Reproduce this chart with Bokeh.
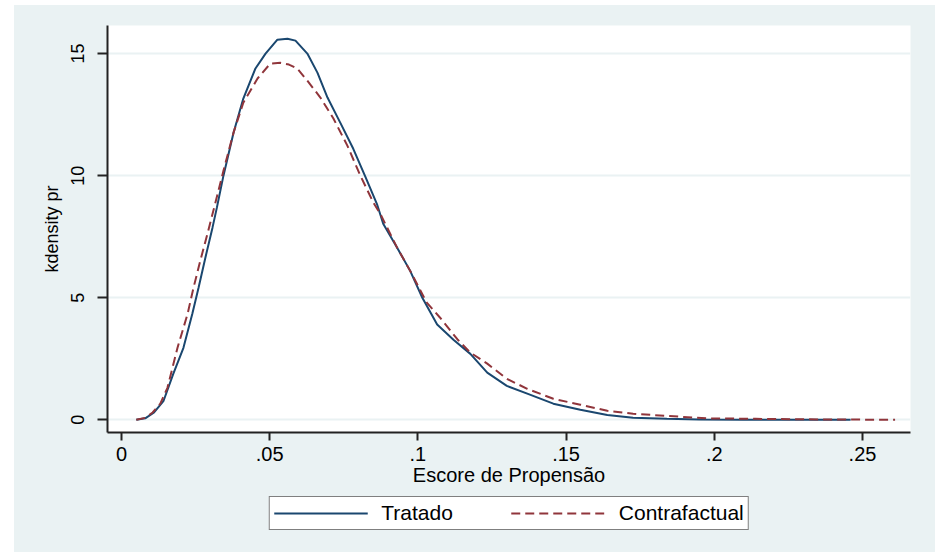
from bokeh.plotting import figure
from bokeh.layouts import column
from bokeh.models import Range1d, FixedTicker, Legend, LegendItem
from bokeh.embed import file_html
from bokeh.resources import INLINE

# ---- data ----
tratado_x = [0.005, 0.008, 0.011, 0.0142, 0.0175, 0.0209, 0.0239, 0.026, 0.0283, 0.0307,
             0.0322, 0.0344, 0.0378, 0.0411, 0.0452, 0.0486, 0.0526, 0.056, 0.0587, 0.0627,
             0.0661, 0.0695, 0.0738, 0.0782, 0.0823, 0.0863, 0.0883, 0.093, 0.0974, 0.1015,
             0.1065, 0.112, 0.1177, 0.1234, 0.130, 0.1369, 0.1457, 0.1548, 0.1639, 0.1726,
             0.184, 0.195, 0.21, 0.23, 0.246]
tratado_y = [0.0, 0.06, 0.3, 0.78, 1.89, 2.95, 4.34, 5.41, 6.64, 7.87,
             8.7, 10.0, 11.76, 13.16, 14.39, 15.0, 15.57, 15.61, 15.53, 15.0,
             14.22, 13.2, 12.17, 11.1, 9.95, 8.8, 8.03, 7.05, 6.1, 5.0,
             3.9, 3.28, 2.7, 1.93, 1.39, 1.07, 0.66, 0.41, 0.2, 0.08,
             0.04, 0.01, 0.005, 0.002, 0.0]

contra_x = [0.005, 0.008, 0.0105, 0.0131, 0.0155, 0.0189, 0.0223, 0.0243, 0.0266, 0.029,
            0.0317, 0.0344, 0.0378, 0.0411, 0.0459, 0.0502, 0.0536, 0.0565, 0.0593, 0.0627,
            0.0671, 0.0715, 0.0762, 0.0806, 0.085, 0.0873, 0.093, 0.0974, 0.103, 0.1075,
            0.1133, 0.1177, 0.1234, 0.130, 0.1369, 0.1457, 0.1548, 0.1639, 0.1726, 0.184,
            0.1976, 0.214, 0.23, 0.245, 0.261]
contra_y = [0.0, 0.08, 0.3, 0.66, 1.31, 2.95, 4.34, 5.41, 6.52, 7.62,
            8.9, 10.2, 11.76, 12.99, 13.98, 14.59, 14.62, 14.55, 14.39, 13.89,
            13.2, 12.34, 11.23, 10.0, 8.89, 8.44, 7.05, 6.1, 4.8, 4.18,
            3.3, 2.75, 2.3, 1.68, 1.27, 0.86, 0.62, 0.37, 0.25, 0.16,
            0.06, 0.04, 0.02, 0.01, 0.0]

x_ticks = [0, 0.05, 0.1, 0.15, 0.2, 0.25]
x_tick_labels = ["0", ".05", ".1", ".15", ".2", ".25"]
y_ticks = [0, 5, 10, 15]
y_tick_labels = ["0", "5", "10", "15"]

series_names = ["Tratado", "Contrafactual"]
x_title = "Escore de Propensão"
y_title = "kdensity pr"

BG = "#EAF2F3"
NAVY = "#1A476F"
MAROON = "#90353B"
FONT = "Liberation Sans"
DASH = "9 5"

p = figure(frame_width=803, frame_height=407, output_backend="svg", toolbar_location=None,
           x_range=Range1d(-0.00472, 0.2662), y_range=Range1d(-0.52, 16.15),
           min_border_left=93, min_border_right=25, min_border_top=20, min_border_bottom=0)

p.background_fill_color = "white"
p.border_fill_color = BG
p.outline_line_color = None

r1 = p.line(tratado_x, tratado_y, line_color=NAVY, line_width=2)
r2 = p.line(contra_x, contra_y, line_color=MAROON, line_width=2, line_dash=DASH)

# axes
p.xaxis.ticker = FixedTicker(ticks=x_ticks)
p.xaxis.major_label_overrides = {t: l for t, l in zip(x_ticks, x_tick_labels)}
p.yaxis.ticker = FixedTicker(ticks=y_ticks)
p.yaxis.major_label_overrides = {t: l for t, l in zip(y_ticks, y_tick_labels)}

for ax in (p.xaxis, p.yaxis):
    ax.axis_line_color = "#222222"
    ax.axis_line_width = 2
    ax.major_tick_line_color = "#222222"
    ax.major_tick_line_width = 2
    ax.major_tick_in = 0
    ax.minor_tick_line_color = None
    ax.major_label_text_font = FONT
    ax.major_label_text_color = "black"
    ax.axis_label_text_font = FONT
    ax.axis_label_text_font_style = "normal"
    ax.axis_label_text_color = "black"

p.xaxis.major_tick_out = 8
p.xaxis.major_label_standoff = 6
p.xaxis.major_label_text_font_size = "20px"
p.xaxis.axis_label = x_title
p.xaxis.axis_label_text_font_size = "20px"
p.xaxis.axis_label_standoff = 0

p.yaxis.major_tick_out = 10
p.yaxis.major_label_standoff = 13
p.yaxis.major_label_orientation = "vertical"
p.yaxis.major_label_text_font_size = "18px"
p.yaxis.axis_label = y_title
p.yaxis.axis_label_text_font_size = "18px"
p.yaxis.axis_label_standoff = 7

p.xgrid.grid_line_color = None
p.ygrid.grid_line_color = BG
p.ygrid.grid_line_width = 2

# legend strip below the chart (same background), legend centred under the plot frame
p2 = figure(frame_width=803, height=65, output_backend="svg", toolbar_location=None,
            x_range=Range1d(10, 11), y_range=Range1d(10, 11),
            min_border_left=93, min_border_right=25, min_border_top=0, min_border_bottom=16)
p2.background_fill_color = BG
p2.border_fill_color = BG
p2.outline_line_color = None
p2.axis.visible = False
p2.grid.visible = False
# legend keys (same series, outside this strip's visible range)
k1 = p2.line(tratado_x, tratado_y, line_color=NAVY, line_width=2)
k2 = p2.line(contra_x, contra_y, line_color=MAROON, line_width=2, line_dash=DASH)

legend = Legend(items=[LegendItem(label=series_names[0], renderers=[k1]),
                       LegendItem(label=series_names[1], renderers=[k2])],
                orientation="horizontal", location="center",
                label_text_font=FONT, label_text_font_size="21px", label_text_color="black",
                border_line_color="black", border_line_width=1.5,
                background_fill_color="white", background_fill_alpha=1,
                glyph_width=94, glyph_height=18, label_standoff=14, spacing=58,
                padding=4, margin=0, label_height=18)
p2.add_layout(legend, "center")

layout = column(p, p2, spacing=0, margin=(5, 0, 0, 14), styles={"background-color": BG})
open("out.html", "w").write(file_html(layout, INLINE))
